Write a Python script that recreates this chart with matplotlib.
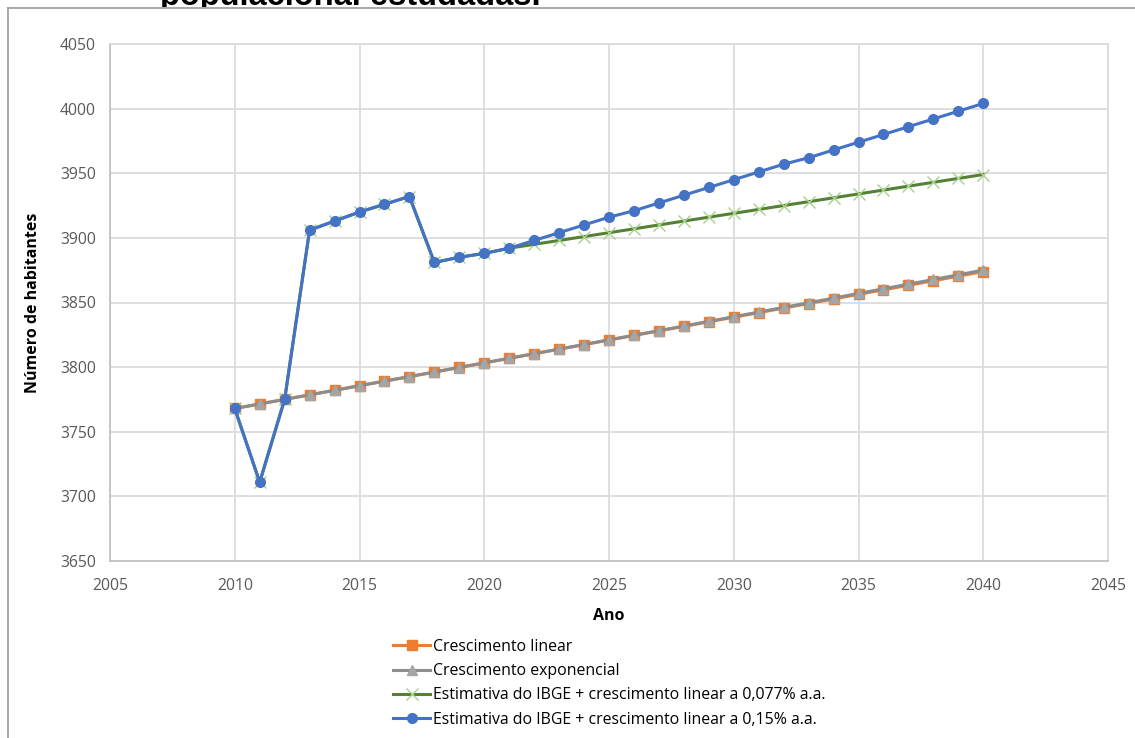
import matplotlib
matplotlib.use("Agg")
import matplotlib.pyplot as plt
from matplotlib.patches import Rectangle
from matplotlib.lines import Line2D

# Anos da projeção
anos = list(range(2010, 2041))

# Projeções populacionais (habitantes)
crescimento_linear = [
    3768.0, 3771.5, 3775.1, 3778.6, 3782.1, 3785.7, 3789.2, 3792.7, 3796.2, 3799.8,
    3803.3, 3806.8, 3810.4, 3813.9, 3817.4, 3821.0, 3824.5, 3828.0, 3831.5, 3835.1,
    3838.6, 3842.1, 3845.7, 3849.2, 3852.7, 3856.3, 3859.8, 3863.3, 3866.8, 3870.4,
    3873.9,
]
crescimento_exponencial = [
    3768.0, 3771.5, 3775.0, 3778.5, 3782.0, 3785.6, 3789.1, 3792.6, 3796.2, 3799.7,
    3803.3, 3806.8, 3810.4, 3813.9, 3817.5, 3821.1, 3824.7, 3828.2, 3831.8, 3835.4,
    3839.0, 3842.6, 3846.2, 3849.8, 3853.4, 3857.0, 3860.6, 3864.2, 3867.8, 3871.4,
    3875.1,
]
ibge_0077 = [
    3768, 3711, 3775, 3906, 3913, 3920, 3926, 3932, 3881, 3885,
    3888, 3892, 3895, 3898, 3901, 3904, 3907, 3910, 3913, 3916,
    3919, 3922, 3925, 3928, 3931, 3934, 3937, 3940, 3943, 3946,
    3949,
]
ibge_015 = [
    3768, 3711, 3775, 3906, 3913, 3920, 3926, 3932, 3881, 3885,
    3888, 3892, 3898, 3904, 3910, 3916, 3921, 3927, 3933, 3939,
    3945, 3951, 3957, 3962, 3968, 3974, 3980, 3986, 3992, 3998,
    4004,
]

rotulos = [
    "Crescimento linear",
    "Crescimento exponencial",
    "Estimativa do IBGE + crescimento linear a 0,077% a.a.",
    "Estimativa do IBGE + crescimento linear a 0,15% a.a.",
]

W, H = 1135, 738
fig = plt.figure(figsize=(W / 100, H / 100), dpi=100)
fig.patch.set_facecolor("white")

plt.rcParams["font.family"] = ["Open Sans", "DejaVu Sans"]

ax = fig.add_axes([110 / W, 1 - 561 / H, (1108 - 110) / W, (561 - 44) / H])

estilos = [
    dict(color="#ed7d31", lw=2.2, marker="s", ms=7, mfc="#ed7d31", mec="#ed7d31"),
    dict(color="#8c8c8c", lw=2.2, marker="^", ms=7, mfc="#a5a5a5", mec="#a5a5a5"),
    dict(color="#548235", lw=2.2, marker="x", ms=8, mew=1.0, mfc="#a9d18e", mec="#a9d18e"),
    dict(color="#4472c4", lw=2.2, marker="o", ms=7, mfc="#4472c4", mec="#4472c4"),
]
series = [crescimento_linear, crescimento_exponencial, ibge_0077, ibge_015]
for i, (valores, estilo) in enumerate(zip(series, estilos)):
    ax.plot(anos, valores, zorder=3 + i, **estilo)

ax.set_xlim(2005, 2045)
ax.set_ylim(3650, 4050)
ax.set_xticks(range(2005, 2046, 5))
ax.set_yticks(range(3650, 4051, 50))
ax.grid(True, color="#d9d9d9", lw=1.2, zorder=0)
ax.set_axisbelow(True)
for side in ("top", "right"):
    ax.spines[side].set_color("#d9d9d9")
    ax.spines[side].set_linewidth(1.2)
for side in ("left", "bottom"):
    ax.spines[side].set_color("#bfbfbf")
    ax.spines[side].set_linewidth(1.2)
ax.tick_params(length=0, labelsize=11.3, labelcolor="#595959", pad=10)
ax.tick_params(axis="x", pad=12)

ax.set_xlabel("Ano", fontsize=11.5, fontweight="bold", labelpad=10)
ax.set_ylabel("Número de habitantes", fontsize=11.5, fontweight="bold", labelpad=14)

handles = [Line2D([], [], **estilo) for estilo in estilos]
fig.legend(handles, rotulos, loc="upper left", bbox_to_anchor=(393 / W, 1 - 639 / H),
           frameon=False, fontsize=11.4, handlelength=2.35, handletextpad=0.2,
           labelspacing=0.52, borderpad=0, borderaxespad=0)

# Título parcialmente visível acima da moldura
fig.text(160 / W, 1 - 5 / H, "populacional estudadas.", fontsize=23.5, fontweight="bold",
         color="black", va="baseline", ha="left", family=["Liberation Sans", "DejaVu Sans"],
         zorder=3)
fig.add_artist(Rectangle((0, 1 - 30 / H), 1, 23 / H, transform=fig.transFigure,
                         facecolor="white", edgecolor="none", zorder=4))
# Moldura
fig.add_artist(Line2D([8 / W, 1], [1 - 8 / H, 1 - 8 / H], transform=fig.transFigure,
                      color="#a0a0a0", lw=1.3, zorder=5))
fig.add_artist(Line2D([8 / W, 8 / W], [0, 1 - 8 / H], transform=fig.transFigure,
                      color="#a0a0a0", lw=1.3, zorder=5))

fig.savefig("out.png", dpi=100)
